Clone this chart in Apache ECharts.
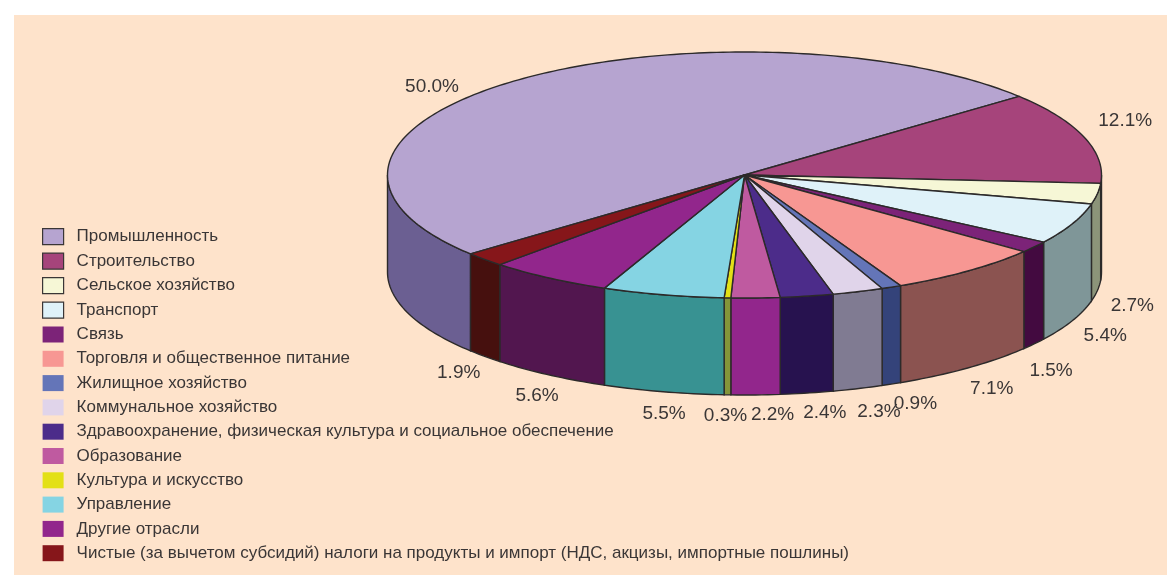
<!DOCTYPE html>
<html>
<head>
<meta charset="utf-8">
<style>
  html, body { margin: 0; padding: 0; background: #fff; }
  #chart { width: 1167px; height: 575px; }
</style>
<script src="https://cdn.jsdelivr.net/npm/echarts@6/dist/echarts.min.js"></script>
</head>
<body>
<div id="chart"></div>
<script>
var categories = [
  'Промышленность',
  'Строительство',
  'Сельское хозяйство',
  'Транспорт',
  'Связь',
  'Торговля и общественное питание',
  'Жилищное хозяйство',
  'Коммунальное хозяйство',
  'Здравоохранение, физическая культура и социальное обеспечение',
  'Образование',
  'Культура и искусство',
  'Управление',
  'Другие отрасли',
  'Чистые (за вычетом субсидий) налоги на продукты и импорт (НДС, акцизы, импортные пошлины)'
];
var shares = [50.0, 12.1, 2.7, 5.4, 1.5, 7.1, 0.9, 2.3, 2.4, 2.2, 0.3, 5.5, 5.6, 1.9];
var topColors = ['#b6a4d0', '#a6447b', '#f6f7d6', '#dff2f9', '#7c2378', '#f79793', '#6475b8', '#e0d4ea', '#4c2c8a', '#bf5aa0', '#e3e016', '#85d4e3', '#92268c', '#86161a'];
var sideColors = ['#6b5f92', '#6b2c50', '#8c9479', '#7f9698', '#430a40', '#8b5350', '#34437a', '#807b92', '#27124f', '#92268c', '#859539', '#389292', '#52164f', '#46100e'];
var borderedKeys = [0, 1, 2, 3];

// pie geometry, pixels
var cx = 744.5, cy = 175, rx = 357, ry = 123, depth = 97;
var startAngle = 219.88;
var lineColor = '#2c2a2a';
var textColor = '#3a3636';
var fontName = '"Liberation Sans", Arial, sans-serif';
// label offset from the rim point at the slice's mid angle
var labelNudge = [[-84, 6], [41, -16], [35, 15], [33, 15], [17, 27], [24, 21], [24, 20], [21, 23], [18, 20], [17, 20], [-2, 21], [1, 22], [-12, 21], [-26, 16]];

var total = shares.reduce(function(a, b) { return a + b; }, 0);

function rim(deg, drop) {
  var r = deg * Math.PI / 180;
  return [cx + rx * Math.cos(r), cy - ry * Math.sin(r) + drop];
}

function arc(from, to, drop) {
  var pts = [];
  var n = Math.max(2, Math.ceil(Math.abs(to - from)));
  for (var i = 0; i <= n; i++) pts.push(rim(from + (to - from) * i / n, drop));
  return pts;
}

// visible wall of a slice: the part of its arc on the front half (math angle 180..360)
function wallRange(from, to) {
  var ranges = [];
  [[180, 360], [-180, 0], [540, 720]].forEach(function(f) {
    var a = Math.min(from, f[1]);
    var b = Math.max(to, f[0]);
    if (a > b) ranges.push([a, b]);
  });
  return ranges;
}

var series = [];
var running = 0;
categories.forEach(function(name, i) {
  var from = startAngle - running / total * 360;
  running += shares[i];
  var to = startAngle - running / total * 360;
  series.push({
    type: 'custom',
    name: name,
    coordinateSystem: 'none',
    silent: true,
    itemStyle: { color: topColors[i] },
    data: [[shares[i], from, to, i]],
    renderItem: function(params, api) {
      var a1 = api.value(1), a2 = api.value(2), idx = api.value(3);
      var children = [];
      wallRange(a1, a2).forEach(function(r) {
        var pts = arc(r[0], r[1], 0).concat(arc(r[1], r[0], depth));
        children.push({
          type: 'polygon',
          z2: 1,
          shape: { points: pts },
          style: { fill: sideColors[idx], stroke: lineColor, lineWidth: 1.4 }
        });
      });
      children.push({
        type: 'polygon',
        z2: 2,
        shape: { points: [[cx, cy]].concat(arc(a1, a2, 0)) },
        style: { fill: topColors[idx], stroke: lineColor, lineWidth: 1.4, lineJoin: 'round' }
      });
      var mid = (a1 + a2) / 2;
      var front = Math.sin(mid * Math.PI / 180) < 0;
      var p = rim(mid, front ? depth : 0);
      children.push({
        type: 'text',
        z2: 3,
        style: {
          x: p[0] + labelNudge[idx][0],
          y: p[1] + labelNudge[idx][1],
          text: api.value(0).toFixed(1) + '%',
          fill: textColor,
          font: '19px ' + fontName,
          textAlign: 'center',
          textVerticalAlign: 'middle'
        }
      });
      return { type: 'group', children: children };
    }
  });
});

var chart = echarts.init(document.getElementById('chart'), null, { renderer: 'canvas' });
chart.setOption({
  animation: false,
  backgroundColor: '#ffffff',
  graphic: [{
    type: 'rect',
    z: -10,
    silent: true,
    shape: { x: 14, y: 15, width: 1153, height: 560 },
    style: { fill: '#fee3cb' }
  }],
  legend: {
    orient: 'vertical',
    left: 42,
    top: 228,
    padding: 0,
    itemWidth: 21,
    itemHeight: 16,
    itemGap: 7.3,
    selectedMode: false,
    icon: 'rect',
    textStyle: { color: textColor, fontSize: 17, fontFamily: fontName, padding: [0, 0, 0, 8] },
    data: categories.map(function(name, i) {
      var bordered = borderedKeys.indexOf(i) >= 0;
      return {
        name: name,
        itemStyle: {
          color: topColors[i],
          borderColor: bordered ? '#3a3636' : topColors[i],
          borderWidth: bordered ? 1.2 : 0
        }
      };
    })
  },
  series: series
});
</script>
</body>
</html>
